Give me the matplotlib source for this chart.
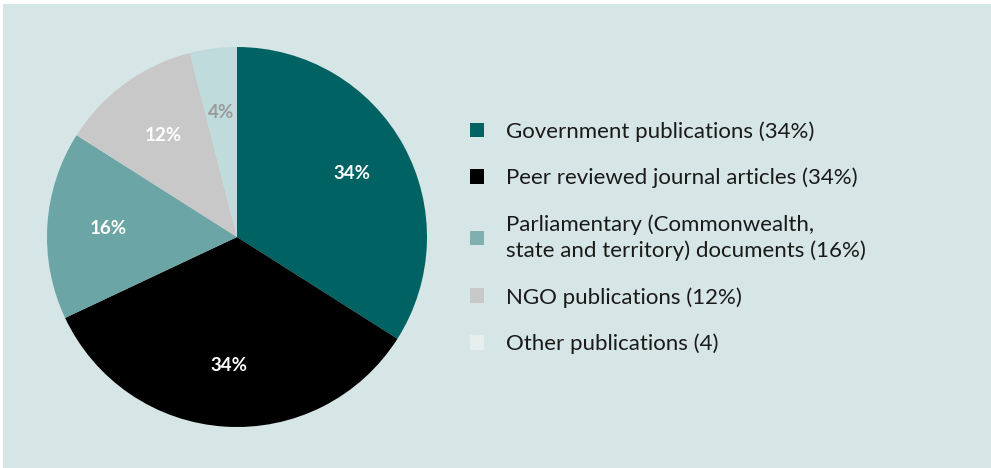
import numpy as np
import matplotlib.pyplot as plt
from matplotlib.patches import Rectangle, Patch

# data
labels = ['Government publications (34%)',
          'Peer reviewed journal articles (34%)',
          'Parliamentary (Commonwealth,\nstate and territory) documents (16%)',
          'NGO publications (12%)',
          'Other publications (4)']
values = [34, 34, 16, 12, 4]
pct_labels = ['34%', '34%', '16%', '12%', '4%']
colors = ['#006262', '#000000', '#6BA5A5', '#C8C8C8', '#C0DBDB']
legend_colors = ['#006262', '#000000', '#7FAFAF', '#C8C8C8', '#E6EEEE']
pct_colors = ['white', 'white', 'white', 'white', '#9A9A9A']

plt.rcParams['font.family'] = ['Lato', 'DejaVu Sans']

W, H = 991, 468
fig = plt.figure(figsize=(W / 100, H / 100), dpi=100, facecolor='white')

# light panel behind everything
fig.patches.append(Rectangle((3 / W, 0), 1, 1 - 4 / H, transform=fig.transFigure,
                             facecolor='#D6E5E5', edgecolor='none', zorder=-5))

# pie axes: centre ~ (237, 237), radius ~ 190 px
r = 190
ax = fig.add_axes([(237 - r) / W, (H - 237 - r) / H, 2 * r / W, 2 * r / H])
ax.set_zorder(2)
ax.set_facecolor('none')
wedges, _ = ax.pie(values, colors=colors, startangle=90, counterclock=False,
                   wedgeprops=dict(linewidth=0), radius=1)
ax.set_aspect('equal')
ax.set_xlim(-1, 1)
ax.set_ylim(-1, 1)

# percentage labels
label_r = [0.69, 0.68, 0.68, 0.66, 0.66]
for w, txt, c, lr in zip(wedges, pct_labels, pct_colors, label_r):
    ang = np.deg2rad((w.theta1 + w.theta2) / 2)
    ax.text(lr * np.cos(ang), lr * np.sin(ang), txt, color=c, fontsize=13.5,
            fontweight='bold', ha='center', va='center')

# legend
handles = [Patch(facecolor=c, edgecolor='none') for c in legend_colors]
leg = fig.legend(handles, labels, loc='center left', bbox_to_anchor=(450 / W, 0.492),
                 frameon=False, fontsize=16, handlelength=0.63, handleheight=0.63,
                 handletextpad=1.0, labelspacing=1.17, labelcolor='#1A1A1A')
for t in leg.get_texts():
    t.set_linespacing(1.32)
leg.set_zorder(3)

fig.savefig('out.png', dpi=100, facecolor=fig.get_facecolor())
